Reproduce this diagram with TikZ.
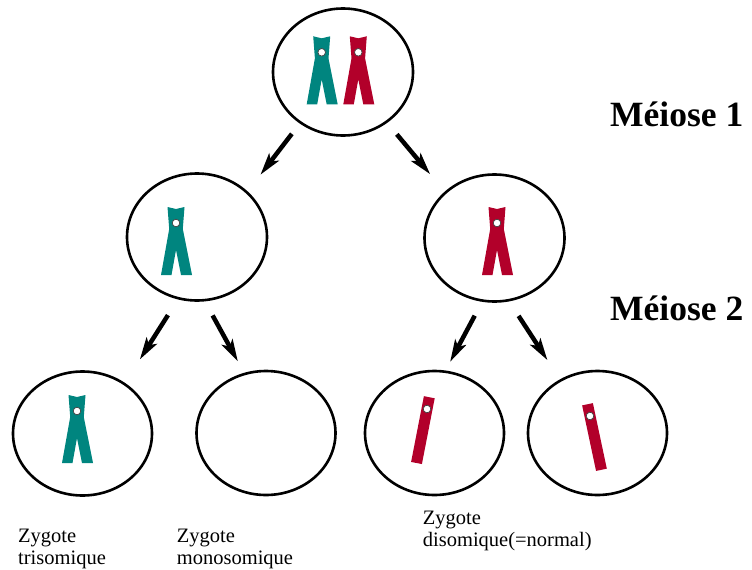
\documentclass[tikz,border=0pt]{standalone}
\usepackage{fontspec}
\setmainfont{Liberation Serif}
\usepackage{tikz}
\usetikzlibrary{shapes.geometric,arrows.meta}
\definecolor{chromteal}{RGB}{0,133,127}
\definecolor{chromred}{RGB}{178,0,42}
\tikzset{cell/.style={draw,ellipse,line width=2.6pt,inner sep=0pt,minimum width=140pt,minimum height=127pt},
    division/.style={line width=4.5pt,-{Stealth[length=22pt,width=12pt,inset=5pt]}},
    zygote/.style={anchor=north west,inner sep=0pt,align=left,font=\fontsize{20.5}{22.5}\selectfont},
    stage/.style={anchor=base west,inner sep=0pt,font=\bfseries\fontsize{35.5}{40}\selectfont},
    centro/.style={fill=white,draw=black!75,line width=0.7pt},
    pics/chromo/.style={code={
        \fill[#1] (-8.5,-16) -- (0,-14) -- (8.5,-16) -- (6.8,6) -- (16,52) -- (5,52) -- (0,27) -- (-4.5,52) -- (-15,52) -- (-6.8,6) -- cycle;
        \filldraw[centro] (0,0) circle (3.8pt);}},
    pics/chromatid/.style={code={
        \fill[chromred] (-5.5,-12) rectangle (5.5,55);
        \filldraw[centro] (0,0) circle (3.8pt);}}}

\begin{document}
\begin{tikzpicture}[x=1pt,y=-1pt]
                \useasboundingbox (0,0) rectangle (752,570);
                % cells
                \node[cell] (mother) at (343,72) {};
                \node[cell] (left) at (197,237) {};
                \node[cell] (right) at (494.5,238) {};
                \node[cell,minimum width=139pt,minimum height=124pt] (tri) at (82.5,433.5) {};
                \node[cell,minimum width=139pt,minimum height=124pt] (mono) at (266,433) {};
                \node[cell,minimum width=139pt,minimum height=124pt] (di1) at (434.5,433) {};
                \node[cell,minimum width=139pt,minimum height=124pt] (di2) at (597.5,433) {};
                % chromosomes
                \pic at (321.7,52.3) {chromo=chromteal};
                \pic at (358.3,52.3) {chromo=chromred};
                \pic at (176,223) {chromo=chromteal};
                \pic at (497,223) {chromo=chromred};
                \pic at (77,411) {chromo=chromteal};
                \pic[rotate=-11] at (427,409) {chromatid};
                \pic[rotate=12] at (590,416) {chromatid};
                % divisions
                \draw[division,shorten <=13pt,shorten >=21pt] (mother.230.7) -- (left.42.2);
                \draw[division,shorten <=15pt,shorten >=22.7pt] (mother.311) -- (right.137.9);
                \draw[division,shorten <=18.6pt,shorten >=27.7pt] (left.253.1) -- (tri.50.7);
                \draw[division,shorten <=16pt,shorten >=12.9pt] (left.277.9) -- (mono.110.1);
                \draw[division,shorten <=15.7pt,shorten >=9.8pt] (right.259.5) -- (di1.80);
                \draw[division,shorten <=17.3pt,shorten >=22.9pt] (right.283.3) -- (di2.125.4);
                % labels
                \node[stage] (meiosis1) at (610,126) {Méiose 1};
                \node[stage] (meiosis2) at (610,320) {Méiose 2};
                \node[zygote] (trilabel) at (18,528.5) {Zygote\\trisomique};
                \node[zygote] (monolabel) at (176.7,528.5) {Zygote\\monosomique};
                \node[zygote] (dilabel) at (422.7,510.8) {Zygote\\disomique(=normal)};
            \end{tikzpicture}
\end{document}
